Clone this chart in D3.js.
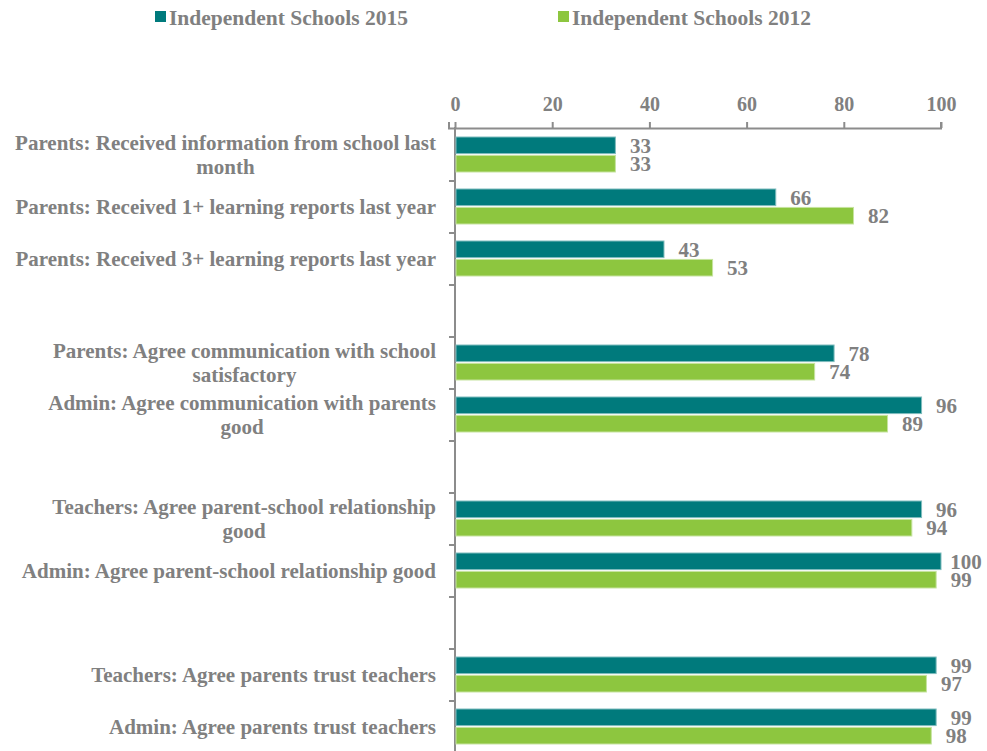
<!DOCTYPE html>
<html>
<head>
<meta charset="utf-8">
<script src="https://cdn.jsdelivr.net/npm/d3@7"></script>
<style>
  html, body { margin: 0; padding: 0; background: #fff; }
  svg text { font-family: "Liberation Serif", "Times New Roman", serif; font-weight: bold; fill: #808080; }
</style>
</head>
<body>
<svg id="chart" width="987" height="751"></svg>
<script>
// Survey statements, in display order
const categories = [
  "Parents: Received information from school last month",
  "Parents: Received 1+ learning reports last year",
  "Parents: Received 3+ learning reports last year",
  "Parents: Agree communication with school satisfactory",
  "Admin: Agree communication with parents good",
  "Teachers: Agree parent-school relationship good",
  "Admin: Agree parent-school relationship good",
  "Teachers: Agree parents trust teachers",
  "Admin: Agree parents trust teachers"
];
// Thematic group of each statement; an empty row separates groups
const groups = [0, 0, 0, 1, 1, 2, 2, 3, 3];

const seriesNames = ["Independent Schools 2015", "Independent Schools 2012"];
const values2015 = [33, 66, 43, 78, 96, 96, 100, 99, 99];
const values2012 = [33, 82, 53, 74, 89, 94, 99, 97, 98];
const xTicks = [0, 20, 40, 60, 80, 100];

const colors = ["#007A7C", "#8DC63F"];

const svg = d3.select("#chart");
const margin = { top: 129, left: 455, right: 46, bottom: 0 };
const width = 987 - margin.left - margin.right;

// Build row keys with separators between groups
const rows = [];
categories.forEach((c, i) => {
  if (i > 0 && groups[i] !== groups[i - 1]) rows.push("__gap" + i);
  rows.push(c);
});
const rowH = 52;

const x = d3.scaleLinear().domain([0, 100]).range([margin.left, margin.left + width]);
const y = d3.scaleBand().domain(rows).range([margin.top, margin.top + rowH * rows.length]).paddingInner(0).paddingOuter(0);
const inner = d3.scaleBand().domain([0, 1]).range([8, rowH - 9]).paddingInner(0.1);

// Top value axis
const xAxis = d3.axisTop(x).tickValues(xTicks).tickSize(6).tickPadding(11).tickFormat(d3.format("d"));
const gx = svg.append("g").attr("transform", `translate(0,${margin.top - 1})`).call(xAxis);
gx.select(".domain").attr("stroke", "#8c8c8c").attr("stroke-width", 2)
  .attr("d", `M${margin.left - 6},-6V0.5H${x(100)}V-6`);
gx.selectAll(".tick line").attr("stroke", "#8c8c8c").attr("stroke-width", 2);
gx.selectAll(".tick text").attr("font-size", 20).attr("fill", "#808080")
  .attr("font-family", "Liberation Serif, Times New Roman, serif").attr("font-weight", "bold");

// Category axis line with ticks at row boundaries
const yLine = svg.append("g");
yLine.append("line")
  .attr("x1", margin.left).attr("x2", margin.left)
  .attr("y1", margin.top - 2).attr("y2", 751)
  .attr("stroke", "#8c8c8c").attr("stroke-width", 2);
rows.forEach(r => {
  const yb = y(r) + y.bandwidth();
  yLine.append("line")
    .attr("x1", margin.left - 6).attr("x2", margin.left)
    .attr("y1", yb).attr("y2", yb)
    .attr("stroke", "#8c8c8c").attr("stroke-width", 2);
});

// Bars and value labels
const series = [values2015, values2012];
const barG = svg.append("g");
categories.forEach((c, i) => {
  series.forEach((vals, s) => {
    const y0 = y(c) + inner(s);
    barG.append("rect")
      .attr("x", x(0) + 1)
      .attr("y", y0)
      .attr("width", x(vals[i]) - x(0) - 1)
      .attr("height", inner.bandwidth())
      .attr("fill", colors[s])
      .attr("stroke", s === 0 ? "#7fbcbd" : "#c6e39f")
      .attr("stroke-width", 1);
    barG.append("text")
      .attr("x", x(vals[i]) + 25)
      .attr("y", y0 + inner.bandwidth() / 2)
      .attr("dy", "0.36em")
      .attr("text-anchor", "middle")
      .attr("font-size", 21)
      .text(vals[i]);
  });
});

// Category labels: block right-aligned, wrapped lines centred within the block
const labelRight = margin.left - 19;
const maxW = 432;
const lineH = 24;
categories.forEach(c => {
  const t = svg.append("text")
    .attr("text-anchor", "middle")
    .attr("font-size", 21);
  const words = c.split(" ");
  const lines = [];
  let cur = [];
  const probe = t.append("tspan");
  const measure = s => { probe.text(s); return probe.node().getComputedTextLength(); };
  words.forEach(w => {
    const trial = cur.concat([w]).join(" ");
    if (measure(trial) > maxW && cur.length) {
      lines.push(cur.join(" "));
      cur = [w];
    } else {
      cur.push(w);
    }
  });
  lines.push(cur.join(" "));
  const blockW = d3.max(lines, measure);
  probe.remove();
  const cx = labelRight - blockW / 2;
  const cy = y(c) + y.bandwidth() / 2;
  const startY = cy - (lines.length - 1) * lineH / 2;
  lines.forEach((ln, k) => {
    t.append("tspan")
      .attr("x", cx)
      .attr("y", startY + k * lineH)
      .attr("dy", "0.35em")
      .text(ln);
  });
});

// Legend
const legendX = [155, 558];
seriesNames.forEach((n, s) => {
  const g = svg.append("g").attr("transform", `translate(${legendX[s]},17)`);
  g.append("rect").attr("x", 0).attr("y", -6).attr("width", 11).attr("height", 11).attr("fill", colors[s]);
  g.append("text").attr("x", 14).attr("y", 0).attr("dy", "0.35em").attr("font-size", 21.5).text(n);
});
</script>
</body>
</html>
